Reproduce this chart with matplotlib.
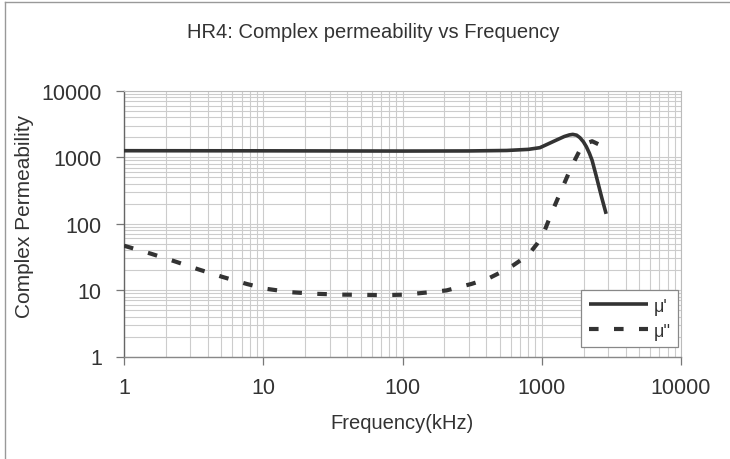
import matplotlib
matplotlib.use("Agg")
import matplotlib.pyplot as plt
from matplotlib.lines import Line2D
from matplotlib.ticker import LogLocator, FixedLocator, FixedFormatter, NullFormatter

plt.rcParams['font.family'] = ['Liberation Sans', 'DejaVu Sans']

# ---- data ----
title = "HR4: Complex permeability vs Frequency"
xlabel = "Frequency(kHz)"
ylabel = "Complex Permeability"
series_names = ["\u03bc'", "\u03bc''"]

freq_mu1 = [1, 10, 100, 300, 560, 800, 970, 1100, 1280, 1450, 1580, 1670, 1780, 1880, 1990, 2090,
            2200, 2300, 2470, 2700, 2900]
mu1 = [1260, 1255, 1245, 1250, 1270, 1320, 1400, 1580, 1830, 2060, 2180, 2220, 2160, 1980, 1720, 1450,
       1150, 900, 510, 245, 141]

freq_mu2 = [1, 1.56, 2.32, 3.41, 5.1, 7.6, 10.4, 15.8, 24, 36.6, 52, 73, 104, 157, 207, 313, 412,
            514, 623, 728, 831, 927, 1014, 1176, 1387, 1636, 1963, 2300, 2600, 2900]
mu2 = [46.7, 35.4, 27.1, 20.6, 15.8, 12.4, 10.5, 9.3, 8.8, 8.55, 8.5, 8.4, 8.55, 9.3, 9.9, 12.4, 14.9,
       18.8, 23.6, 29.5, 37.5, 50, 66, 145, 325, 727, 1541, 1750, 1550, 1330]

xticks = [1, 10, 100, 1000, 10000]
xtick_labels = ["1", "10", "100", "1000", "10000"]
yticks = [1, 10, 100, 1000, 10000]
ytick_labels = ["1", "10", "100", "1000", "10000"]

# ---- figure ----
W, H = 730, 460
fig = plt.figure(figsize=(W / 100, H / 100), dpi=100)
fig.patch.set_facecolor("white")

ax_l, ax_r, ax_t, ax_b = 124, 681, 92, 357.5
ax = fig.add_axes([ax_l / W, 1 - ax_b / H, (ax_r - ax_l) / W, (ax_b - ax_t) / H])
ax.set_xscale("log")
ax.set_yscale("log")
ax.set_xlim(1, 10000)
ax.set_ylim(1, 10000)

line_color = "#333333"
ax.plot(freq_mu1, mu1, color=line_color, lw=2.6, solid_capstyle="butt", solid_joinstyle="round",
        label=series_names[0], zorder=3)
ax.plot(freq_mu2, mu2, color=line_color, lw=3.0, dashes=(2.3, 3.7), dash_capstyle="butt",
        label=series_names[1], zorder=3)

# grid
ax.xaxis.set_minor_locator(LogLocator(base=10, subs=range(2, 10)))
ax.yaxis.set_minor_locator(LogLocator(base=10, subs=range(2, 10)))
ax.xaxis.set_minor_formatter(NullFormatter())
ax.yaxis.set_minor_formatter(NullFormatter())
ax.grid(True, which="both", color="#cccccc", lw=0.8, zorder=0)
ax.set_axisbelow(True)

ax.xaxis.set_major_locator(FixedLocator(xticks))
ax.xaxis.set_major_formatter(FixedFormatter(xtick_labels))
ax.yaxis.set_major_locator(FixedLocator(yticks))
ax.yaxis.set_major_formatter(FixedFormatter(ytick_labels))
ax.tick_params(which="minor", length=0)
ax.tick_params(which="major", direction="out", length=6, width=0.9, color="#777777",
               labelsize=15.5, labelcolor="#333333")
ax.tick_params(axis="y", pad=10)
ax.tick_params(axis="x", pad=9)

for s in ["top", "right"]:
    ax.spines[s].set_color("#bbbbbb")
    ax.spines[s].set_linewidth(0.8)
ax.spines["left"].set_color("#666666")
ax.spines["bottom"].set_color("#888888")
ax.spines["left"].set_linewidth(1.0)
ax.spines["bottom"].set_linewidth(1.0)

fig.text((ax_l + ax_r) / 2 / W, 1 - 424 / H, xlabel, ha="center", va="center",
         fontsize=14.5, color="#333333")
fig.text(25 / W, 1 - 216 / H, ylabel, rotation=90, ha="center", va="center",
         fontsize=15, color="#333333")
fig.text(373.5 / W, 1 - 33 / H, title, ha="center", va="center", fontsize=14.5, color="#333333")

leg = ax.legend(loc="lower right", bbox_to_anchor=(678 / W, 1 - 348 / H),
                bbox_transform=fig.transFigure, fontsize=13, handlelength=3.3,
                handletextpad=0.3, labelspacing=0.45, borderpad=0.4, borderaxespad=0,
                fancybox=False, framealpha=1, edgecolor="#888888")
leg.get_frame().set_linewidth(0.9)
for t in leg.get_texts():
    t.set_color("#333333")

# figure border (top and left)
bx, by = 5 / W, 1 - 3 / H
fig.add_artist(Line2D([bx, bx], [0, by], transform=fig.transFigure, color="#999999", lw=1.0))
fig.add_artist(Line2D([bx, 1], [by, by], transform=fig.transFigure, color="#999999", lw=1.0))

fig.savefig("out.png", dpi=100)
